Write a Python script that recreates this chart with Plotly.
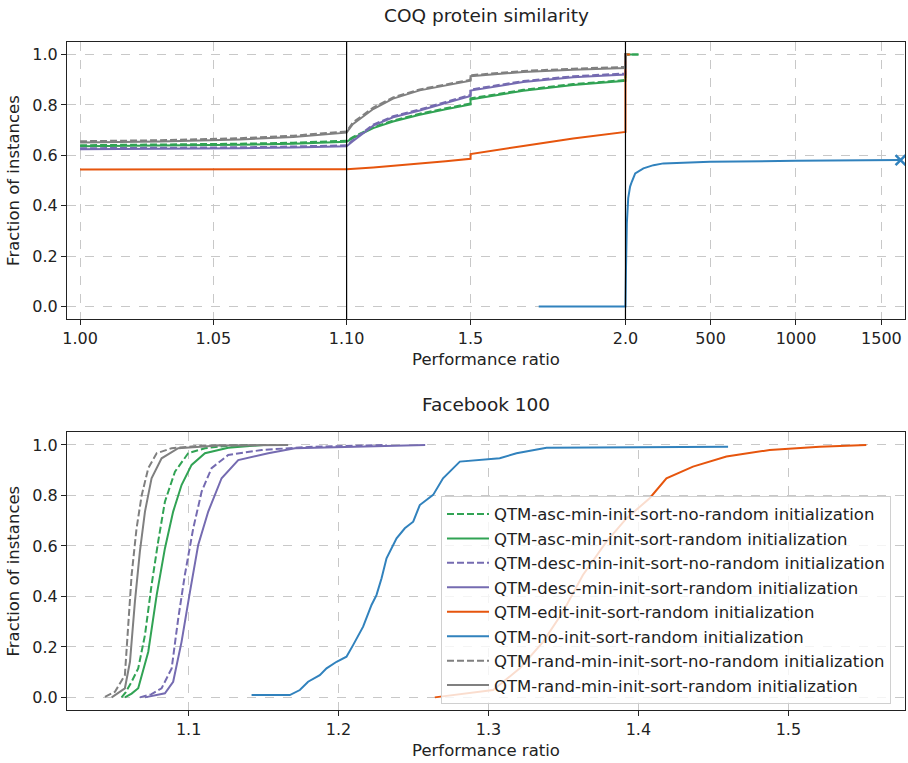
import plotly.graph_objects as go
from plotly.subplots import make_subplots

# ---------------- data ----------------
names = [
    "QTM-asc-min-init-sort-no-random initialization",
    "QTM-asc-min-init-sort-random initialization",
    "QTM-desc-min-init-sort-no-random initialization",
    "QTM-desc-min-init-sort-random initialization",
    "QTM-edit-init-sort-random initialization",
    "QTM-no-init-sort-random initialization",
    "QTM-rand-min-init-sort-no-random initialization",
    "QTM-rand-min-init-sort-random initialization",
]
colors = ["#31a354", "#31a354", "#756bb1", "#756bb1", "#e6550d", "#3182bd", "#808080", "#808080"]
dashes = ["dash", "solid", "dash", "solid", "solid", "solid", "dash", "solid"]

# COQ protein similarity (performance ratio, fraction of instances)
coq_asc_norand_x = [1.0, 1.03, 1.06, 1.08, 1.10, 1.12, 1.186, 1.25, 1.336, 1.42, 1.5, 1.5, 1.67, 1.831, 2.0, 2.0, 78]
coq_asc_norand_y = [0.640, 0.642, 0.646, 0.650, 0.658, 0.672, 0.712, 0.738, 0.765, 0.787, 0.806, 0.826, 0.860, 0.883, 0.899, 1.0, 1.0]
coq_asc_rand_x = [1.0, 1.03, 1.06, 1.08, 1.10, 1.12, 1.186, 1.25, 1.336, 1.42, 1.5, 1.5, 1.67, 1.831, 2.0, 2.0, 78]
coq_asc_rand_y = [0.636, 0.638, 0.642, 0.646, 0.654, 0.668, 0.708, 0.734, 0.761, 0.783, 0.802, 0.822, 0.856, 0.879, 0.896, 1.0, 1.0]
coq_desc_norand_x = [1.0, 1.03, 1.06, 1.08, 1.10, 1.12, 1.186, 1.25, 1.336, 1.42, 1.5, 1.5, 1.67, 1.831, 2.0, 2.0, 10]
coq_desc_norand_y = [0.628, 0.629, 0.632, 0.635, 0.640, 0.660, 0.722, 0.755, 0.782, 0.812, 0.840, 0.861, 0.895, 0.914, 0.925, 1.0, 1.0]
coq_desc_rand_x = [1.0, 1.03, 1.06, 1.08, 1.10, 1.12, 1.186, 1.25, 1.336, 1.42, 1.5, 1.5, 1.67, 1.831, 2.0, 2.0, 10]
coq_desc_rand_y = [0.624, 0.625, 0.628, 0.631, 0.636, 0.656, 0.718, 0.751, 0.778, 0.808, 0.836, 0.857, 0.891, 0.910, 0.921, 1.0, 1.0]
coq_edit_x = [1.0, 1.05, 1.10, 1.186, 1.25, 1.336, 1.42, 1.5, 1.5, 1.67, 1.831, 2.0, 2.0, 29]
coq_edit_y = [0.544, 0.544, 0.545, 0.552, 0.558, 0.566, 0.576, 0.586, 0.605, 0.637, 0.667, 0.693, 1.0, 1.0]
coq_noinit_x = [1.72, 2.0, 5, 10, 18, 29, 39, 59, 107, 166, 224, 497, 1000, 1612]
coq_noinit_y = [0.0, 0.0, 0.15, 0.33, 0.43, 0.476, 0.495, 0.528, 0.548, 0.561, 0.568, 0.574, 0.578, 0.581]
coq_randmin_norand_x = [1.0, 1.03, 1.06, 1.08, 1.10, 1.12, 1.186, 1.25, 1.336, 1.42, 1.5, 1.5, 1.67, 1.831, 2.0, 2.0, 10]
coq_randmin_norand_y = [0.656, 0.660, 0.668, 0.678, 0.695, 0.730, 0.790, 0.830, 0.862, 0.883, 0.900, 0.918, 0.935, 0.944, 0.951, 1.0, 1.0]
coq_randmin_rand_x = [1.0, 1.03, 1.06, 1.08, 1.10, 1.12, 1.186, 1.25, 1.336, 1.42, 1.5, 1.5, 1.67, 1.831, 2.0, 2.0, 10]
coq_randmin_rand_y = [0.651, 0.655, 0.663, 0.673, 0.690, 0.724, 0.784, 0.825, 0.858, 0.879, 0.896, 0.914, 0.931, 0.940, 0.947, 1.0, 1.0]

# Facebook 100
fb_asc_norand_x = [1.0553, 1.058, 1.062, 1.0664, 1.0709, 1.0753, 1.0797, 1.0842, 1.0909, 1.0997, 1.1109, 1.125, 1.14]
fb_asc_norand_y = [0.0, 0.02, 0.062, 0.115, 0.247, 0.445, 0.617, 0.775, 0.894, 0.967, 0.987, 0.996, 1.0]
fb_asc_rand_x = [1.0575, 1.062, 1.0664, 1.0731, 1.0787, 1.0842, 1.0897, 1.0953, 1.102, 1.1109, 1.1264, 1.15]
fb_asc_rand_y = [0.0, 0.015, 0.036, 0.181, 0.405, 0.590, 0.736, 0.841, 0.921, 0.967, 0.989, 1.0]
fb_desc_norand_x = [1.0675, 1.075, 1.082, 1.0887, 1.0931, 1.0975, 1.1031, 1.1087, 1.1153, 1.1264, 1.1487, 1.18, 1.232]
fb_desc_norand_y = [0.0, 0.012, 0.036, 0.115, 0.313, 0.485, 0.670, 0.815, 0.908, 0.960, 0.980, 0.992, 1.0]
fb_desc_rand_x = [1.0709, 1.0842, 1.0897, 1.0953, 1.1009, 1.1064, 1.1131, 1.122, 1.1331, 1.1531, 1.1709, 1.21, 1.2578]
fb_desc_rand_y = [0.0, 0.016, 0.062, 0.220, 0.418, 0.604, 0.736, 0.868, 0.940, 0.967, 0.987, 0.992, 1.0]
fb_edit_x = [1.2642, 1.2875, 1.3031, 1.3209, 1.3364, 1.3497, 1.363, 1.3787, 1.392, 1.4075, 1.4187, 1.4364, 1.4587, 1.4875, 1.5209, 1.552]
fb_edit_y = [0.0, 0.016, 0.029, 0.115, 0.220, 0.339, 0.485, 0.617, 0.709, 0.789, 0.868, 0.914, 0.954, 0.980, 0.993, 1.0]
fb_noinit_x = [1.142, 1.1675, 1.1742, 1.1797, 1.1875, 1.192, 1.1987, 1.2053, 1.2097, 1.2164, 1.222, 1.2253, 1.2287,
               1.232, 1.2387, 1.2442, 1.2498, 1.2542, 1.2631, 1.2697, 1.2809, 1.3075, 1.3187, 1.3387, 1.4598]
fb_noinit_y = [0.009, 0.009, 0.029, 0.062, 0.088, 0.115, 0.141, 0.161, 0.207, 0.280, 0.366, 0.405, 0.472,
               0.551, 0.630, 0.670, 0.696, 0.762, 0.802, 0.868, 0.934, 0.947, 0.967, 0.989, 0.993]
fb_randmin_norand_x = [1.0442, 1.0509, 1.0575, 1.0597, 1.062, 1.0653, 1.0687, 1.0731, 1.0787, 1.0887, 1.11, 1.1664]
fb_randmin_norand_y = [0.002, 0.022, 0.088, 0.300, 0.485, 0.670, 0.800, 0.908, 0.967, 0.987, 0.998, 1.0]
fb_randmin_rand_x = [1.0487, 1.0575, 1.0609, 1.0642, 1.0675, 1.0709, 1.0753, 1.082, 1.0931, 1.12, 1.1664]
fb_randmin_rand_y = [0.0, 0.036, 0.141, 0.379, 0.577, 0.736, 0.868, 0.947, 0.987, 0.998, 1.0]

coq_x = [coq_asc_norand_x, coq_asc_rand_x, coq_desc_norand_x, coq_desc_rand_x, coq_edit_x, coq_noinit_x,
         coq_randmin_norand_x, coq_randmin_rand_x]
coq_y = [coq_asc_norand_y, coq_asc_rand_y, coq_desc_norand_y, coq_desc_rand_y, coq_edit_y, coq_noinit_y,
         coq_randmin_norand_y, coq_randmin_rand_y]
fb_x = [fb_asc_norand_x, fb_asc_rand_x, fb_desc_norand_x, fb_desc_rand_x, fb_edit_x, fb_noinit_x,
        fb_randmin_norand_x, fb_randmin_rand_x]
fb_y = [fb_asc_norand_y, fb_asc_rand_y, fb_desc_norand_y, fb_desc_rand_y, fb_edit_y, fb_noinit_y,
        fb_randmin_norand_y, fb_randmin_rand_y]

coq_ticks = [1.00, 1.05, 1.10, 1.5, 2.0, 500, 1000, 1500]
coq_ticktext = ["1.00", "1.05", "1.10", "1.5", "2.0", "500", "1000", "1500"]
coq_breaks = [1.10, 2.0]
coq_xrange = [0.9951, 1638]
fb_ticks = [1.1, 1.2, 1.3, 1.4, 1.5]
fb_xrange = [1.0189, 1.5778]


# piecewise-linear scale of the top panel: [1.0,1.1] | [1.1,2.0] | [2.0, ...]
def coq_scale(r):
    if r <= 1.10:
        return (r - 1.0) / 0.1
    if r <= 2.0:
        return 1.0 + (r - 1.10) * 1.1624
    return 1.0 + 0.9 * 1.1624 + (r - 2.0) * 0.000641


FONT = "DejaVu Sans"
fig = make_subplots(rows=2, cols=1, vertical_spacing=0.0)

for i in range(8):
    fig.add_trace(go.Scatter(
        x=[coq_scale(v) for v in coq_x[i]], y=coq_y[i], mode="lines",
        line=dict(color=colors[i], width=2, dash="7px,3px" if dashes[i] == "dash" else "solid"),
        name=names[i], showlegend=False, legendgroup="g%d" % i, hoverinfo="skip"), row=1, col=1)
# failure marker at end of the no-init curve
fig.add_trace(go.Scatter(
    x=[coq_scale(coq_noinit_x[-1])], y=[coq_noinit_y[-1]], mode="markers",
    marker=dict(symbol="x-thin", size=10, line=dict(color=colors[5], width=2.5)),
    showlegend=False, hoverinfo="skip"), row=1, col=1)

for i in range(8):
    fig.add_trace(go.Scatter(
        x=fb_x[i], y=fb_y[i], mode="lines",
        line=dict(color=colors[i], width=2, dash="7px,3px" if dashes[i] == "dash" else "solid"),
        name=names[i], showlegend=True, legendgroup="g%d" % i, hoverinfo="skip"), row=2, col=1)

for b in coq_breaks:
    fig.add_shape(type="line", xref="x", yref="y domain", x0=coq_scale(b), x1=coq_scale(b), y0=0, y1=1,
                  line=dict(color="black", width=1.2))

axis_common = dict(showline=True, linecolor="#222", linewidth=1.2, mirror=True, ticks="outside",
                   ticklen=5, tickcolor="#222", showgrid=True, gridcolor="#c8c8c8", griddash="dash",
                   gridwidth=1, zeroline=False, tickfont=dict(family=FONT, size=16, color="#222"))

fig.update_xaxes(row=1, col=1, range=[coq_scale(coq_xrange[0]), coq_scale(coq_xrange[1])],
                 tickvals=[coq_scale(t) for t in coq_ticks], ticktext=coq_ticktext,
                 title=dict(text="Performance ratio", font=dict(family=FONT, size=16.5, color="#222"), standoff=6),
                 domain=[0, 1], **axis_common)
fig.update_xaxes(row=2, col=1, range=fb_xrange, tickvals=fb_ticks, ticktext=["%.1f" % t for t in fb_ticks],
                 title=dict(text="Performance ratio", font=dict(family=FONT, size=16.5, color="#222"), standoff=6),
                 domain=[0, 1], **axis_common)
for r, dom in [(1, [0.5853, 1.0]), (2, [0.0, 0.4157])]:
    fig.update_yaxes(row=r, col=1, range=[-0.05, 1.05], tickvals=[0, 0.2, 0.4, 0.6, 0.8, 1.0],
                     ticktext=["0.0", "0.2", "0.4", "0.6", "0.8", "1.0"], domain=dom,
                     title=dict(text="Fraction of instances", font=dict(family=FONT, size=16.5, color="#222"),
                                standoff=8),
                     **axis_common)

fig.add_annotation(text="COQ protein similarity", xref="paper", yref="paper", x=0.5, y=1.0404,
                   xanchor="center", yanchor="middle", showarrow=False,
                   font=dict(family=FONT, size=18.5, color="#222"))
fig.add_annotation(text="Facebook 100", xref="paper", yref="paper", x=0.5, y=0.4566,
                   xanchor="center", yanchor="middle", showarrow=False,
                   font=dict(family=FONT, size=18.5, color="#222"))

fig.update_layout(
    width=908, height=763,
    margin=dict(l=67, r=3, t=42, b=53),
    plot_bgcolor="white", paper_bgcolor="white",
    font=dict(family=FONT, size=16, color="#222"),
    legend=dict(x=0.4463, y=0.3208, xanchor="left", yanchor="top",
                bgcolor="rgba(255,255,255,0.8)", bordercolor="#d0d0d0", borderwidth=1,
                font=dict(family=FONT, size=16.5, color="#222"), tracegroupgap=0, itemwidth=42),
    showlegend=True,
)

fig.write_html("out.html")
